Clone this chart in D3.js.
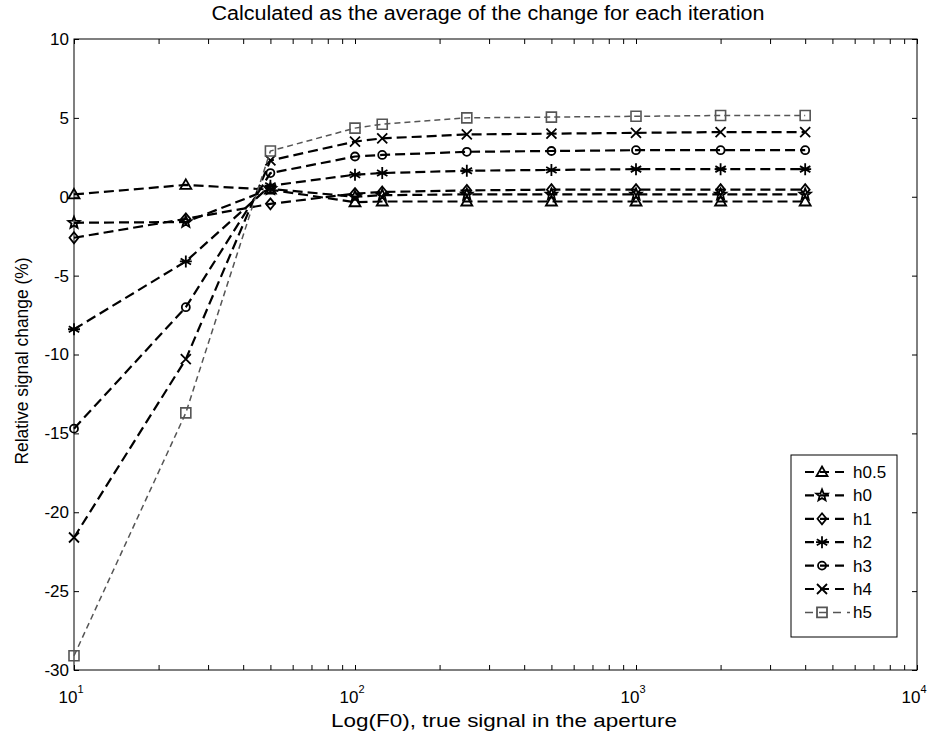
<!DOCTYPE html>
<html>
<head>
<meta charset="utf-8">
<script src="https://cdn.jsdelivr.net/npm/d3@7"></script>
<style>
  body { margin: 0; background: #fff; }
  #chart text { font-family: "Liberation Sans", Arial, sans-serif; fill: #000; }
</style>
</head>
<body>
<div id="chart"></div>
<script>
const xValues = [10, 25, 50, 100, 125, 250, 500, 1000, 2000, 4000];

const seriesNames = ['h0.5', 'h0', 'h1', 'h2', 'h3', 'h4', 'h5'];
const h05 = [0.15, 0.75, 0.45, -0.35, -0.3, -0.3, -0.3, -0.3, -0.3, -0.3];
const h0 = [-1.65, -1.6, 0.5, 0.0, 0.1, 0.15, 0.15, 0.15, 0.15, 0.15];
const h1 = [-2.6, -1.4, -0.45, 0.2, 0.3, 0.4, 0.45, 0.45, 0.45, 0.45];
const h2 = [-8.4, -4.1, 0.7, 1.4, 1.5, 1.65, 1.7, 1.75, 1.75, 1.75];
const h3 = [-14.7, -7.0, 1.5, 2.55, 2.65, 2.85, 2.9, 2.95, 2.95, 2.95];
const h4 = [-21.6, -10.3, 2.3, 3.5, 3.7, 3.95, 4.0, 4.05, 4.1, 4.1];
const h5 = [-29.1, -13.7, 2.9, 4.35, 4.6, 5.0, 5.05, 5.1, 5.15, 5.15];

const xTickValues = [10, 100, 1000, 10000];
const xTickExponents = ['1', '2', '3', '4'];
const yTickValues = [-30, -25, -20, -15, -10, -5, 0, 5, 10];

const allSeries = [h05, h0, h1, h2, h3, h4, h5];
const markers = ['triangle', 'star', 'diamond', 'asterisk', 'circle', 'x', 'square'];

const width = 932;
const height = 737;
const plotLeft = 74, plotRight = 917, plotTop = 39, plotBottom = 670;

const svg = d3
  .select('#chart')
  .append('svg')
  .attr('width', width)
  .attr('height', height);

const x = d3.scaleLog().domain([10, 10000]).range([plotLeft, plotRight]);
const y = d3.scaleLinear().domain([-30, 10]).range([plotBottom, plotTop]);

// marker shapes, drawn as paths centred on 0,0
const markerPath = (type) => {
  const p = d3.path();
  if (type === 'triangle') {
    p.moveTo(0, -5.5); p.lineTo(5.5, 4); p.lineTo(-5.5, 4); p.closePath();
  } else if (type === 'star') {
    for (let i = 0; i < 10; i++) {
      const r = i % 2 === 0 ? 6 : 2.6;
      const a = -Math.PI / 2 + (i * Math.PI) / 5;
      if (i === 0) p.moveTo(r * Math.cos(a), r * Math.sin(a));
      else p.lineTo(r * Math.cos(a), r * Math.sin(a));
    }
    p.closePath();
  } else if (type === 'diamond') {
    p.moveTo(0, -5.5); p.lineTo(4.5, 0); p.lineTo(0, 5.5); p.lineTo(-4.5, 0); p.closePath();
  } else if (type === 'asterisk') {
    p.moveTo(0, -6); p.lineTo(0, 6);
    p.moveTo(-5.2, -3); p.lineTo(5.2, 3);
    p.moveTo(-5.2, 3); p.lineTo(5.2, -3);
    p.moveTo(-6, 0); p.lineTo(6, 0);
  } else if (type === 'circle') {
    p.moveTo(4, 0); p.arc(0, 0, 4, 0, 2 * Math.PI);
  } else if (type === 'x') {
    p.moveTo(-5, -5); p.lineTo(5, 5);
    p.moveTo(-5, 5); p.lineTo(5, -5);
  } else if (type === 'square') {
    p.rect(-5, -5, 10, 10);
  }
  return p.toString();
};

const lineColor = (i) => (i === 6 ? '#555' : '#000');
const lineWidth = (i) => (i === 6 ? 1.5 : 2.2);
const dashArray = (i) => (i === 6 ? '6,4' : '10,5');

// frame
svg
  .append('rect')
  .attr('x', plotLeft)
  .attr('y', plotTop)
  .attr('width', plotRight - plotLeft)
  .attr('height', plotBottom - plotTop)
  .attr('fill', 'none')
  .attr('stroke', '#000')
  .attr('stroke-width', 1);

// minor + major x ticks (inside, top and bottom)
const xAllTicks = [];
[10, 100, 1000].forEach((d) => {
  for (let k = 1; k <= 9; k++) xAllTicks.push(d * k);
});
xAllTicks.push(10000);

svg
  .append('g')
  .attr('transform', `translate(0,${plotBottom})`)
  .call(d3.axisBottom(x).tickValues(xAllTicks).tickSize(-5).tickFormat(''))
  .call((g) => g.select('.domain').remove());

svg
  .append('g')
  .attr('transform', `translate(0,${plotTop})`)
  .call(d3.axisTop(x).tickValues(xAllTicks).tickSize(-5).tickFormat(''))
  .call((g) => g.select('.domain').remove());

svg
  .append('g')
  .attr('transform', `translate(${plotLeft},0)`)
  .call(d3.axisLeft(y).tickValues(yTickValues).tickSize(-5).tickPadding(5).tickFormat((d) => String(d)))
  .call((g) => g.select('.domain').remove())
  .call((g) => g.selectAll('text').style('font-size', '17px'));

svg
  .append('g')
  .attr('transform', `translate(${plotRight},0)`)
  .call(d3.axisRight(y).tickValues(yTickValues).tickSize(-5).tickFormat(''))
  .call((g) => g.select('.domain').remove());

// x tick labels 10^n
const xLab = svg.append('g');
xTickValues.forEach((v, i) => {
  const t = xLab
    .append('text')
    .attr('x', x(v) - 3)
    .attr('y', 703)
    .style('font-size', '17px')
    .attr('text-anchor', 'middle');
  t.append('tspan').text('10');
  t.append('tspan').attr('dy', -10).style('font-size', '11px').text(xTickExponents[i]);
});

// titles
svg
  .append('text')
  .attr('x', 488)
  .attr('y', 20)
  .attr('text-anchor', 'middle')
  .attr('textLength', 553)
  .attr('lengthAdjust', 'spacingAndGlyphs')
  .style('font-size', '20px')
  .text('Calculated as the average of the change for each iteration');

svg
  .append('text')
  .attr('x', 504)
  .attr('y', 727)
  .attr('text-anchor', 'middle')
  .attr('textLength', 346)
  .attr('lengthAdjust', 'spacingAndGlyphs')
  .style('font-size', '19px')
  .text('Log(F0), true signal in the aperture');

svg
  .append('text')
  .attr('transform', 'translate(28,361) rotate(-90)')
  .attr('text-anchor', 'middle')
  .attr('textLength', 207)
  .attr('lengthAdjust', 'spacingAndGlyphs')
  .style('font-size', '19px')
  .text('Relative signal change (%)');

// series
const line = d3
  .line()
  .x((d) => x(d[0]))
  .y((d) => y(d[1]));

allSeries.forEach((vals, i) => {
  const pts = xValues.map((xv, j) => [xv, vals[j]]);
  const g = svg.append('g');
  g.append('path')
    .datum(pts)
    .attr('fill', 'none')
    .attr('stroke', lineColor(i))
    .attr('stroke-width', lineWidth(i))
    .attr('stroke-dasharray', dashArray(i))
    .attr('d', line);
  g.selectAll('path.mk')
    .data(pts)
    .enter()
    .append('path')
    .attr('class', 'mk')
    .attr('transform', (d) => `translate(${x(d[0])},${y(d[1])})`)
    .attr('d', markerPath(markers[i]))
    .attr('fill', 'none')
    .attr('stroke', lineColor(i))
    .attr('stroke-width', i === 6 ? 1.6 : 1.8);
});

// legend
const lg = svg.append('g').attr('transform', 'translate(791,455)');
lg.append('rect')
  .attr('width', 106)
  .attr('height', 182)
  .attr('fill', '#fff')
  .attr('stroke', '#000')
  .attr('stroke-width', 1);

seriesNames.forEach((name, i) => {
  const yy = 17 + i * 23.4;
  lg.append('line')
    .attr('x1', 14)
    .attr('x2', 59)
    .attr('y1', yy)
    .attr('y2', yy)
    .attr('stroke', lineColor(i))
    .attr('stroke-width', lineWidth(i))
    .attr('stroke-dasharray', i === 6 ? '8,6' : '9,6');
  lg.append('path')
    .attr('transform', `translate(31,${yy})`)
    .attr('d', markerPath(markers[i]))
    .attr('fill', 'none')
    .attr('stroke', lineColor(i))
    .attr('stroke-width', 1.8);
  lg.append('text')
    .attr('x', 62)
    .attr('y', yy + 6)
    .style('font-size', '17px')
    .text(name);
});
</script>
</body>
</html>
